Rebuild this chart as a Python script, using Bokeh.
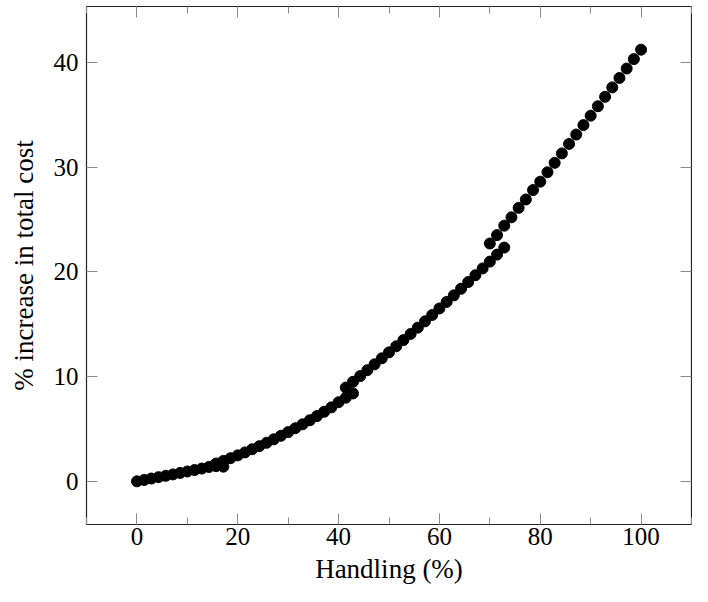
from bokeh.plotting import figure
from bokeh.models import SingleIntervalTicker, LinearAxis, Range1d, CustomLabelingPolicy
from bokeh.embed import file_html
from bokeh.resources import INLINE

# Segment A (low handling)
x_a = [0.0, 1.43, 2.86, 4.29, 5.71, 7.14, 8.57, 10.0, 11.43, 12.86, 14.29, 15.71, 17.14]
y_a = [0.0, 0.13, 0.27, 0.40, 0.53, 0.66, 0.80, 0.94, 1.08, 1.22, 1.37, 1.45, 1.40]
# Segment B
x_b = [15.71, 17.14, 18.57, 20.0, 21.43, 22.86, 24.29, 25.71, 27.14, 28.57,
       30.0, 31.43, 32.86, 34.29, 35.71, 37.14, 38.57, 40.0, 41.43, 42.86]
y_b = [1.70, 1.95, 2.21, 2.48, 2.76, 3.06, 3.36, 3.68, 4.01, 4.35,
       4.70, 5.07, 5.44, 5.83, 6.23, 6.64, 7.06, 7.55, 7.98, 8.39]
# Segment C
x_c = [41.43, 42.86, 44.29, 45.71, 47.14, 48.57, 50.0, 51.43, 52.86, 54.29,
       55.71, 57.14, 58.57, 60.0, 61.43, 62.86, 64.29, 65.71, 67.14, 68.57,
       70.0, 71.43, 72.86]
y_c = [8.95, 9.50, 10.05, 10.61, 11.17, 11.74, 12.31, 12.89, 13.48, 14.07,
       14.67, 15.27, 15.88, 16.50, 17.12, 17.75, 18.38, 19.02, 19.67, 20.32,
       20.97, 21.64, 22.31]
# Segment D (high handling)
x_d = [70.0, 71.43, 72.86, 74.29, 75.71, 77.14, 78.57, 80.0, 81.43, 82.86,
       84.29, 85.71, 87.14, 88.57, 90.0, 91.43, 92.86, 94.29, 95.71, 97.14,
       98.57, 100.0]
y_d = [22.7, 23.5, 24.4, 25.2, 26.1, 26.9, 27.8, 28.6, 29.5, 30.4,
       31.3, 32.2, 33.1, 34.0, 34.9, 35.8, 36.7, 37.6, 38.5, 39.4,
       40.3, 41.2]

FONT = "Liberation Serif"
TICK_FS = "25px"
LABEL_FS = "27px"

p = figure(width=692, height=586, x_range=Range1d(-10, 110), y_range=Range1d(-4.12, 45.32),
           output_backend="svg", toolbar_location=None,
           min_border_left=86, min_border_right=1, min_border_top=6, min_border_bottom=0,
           x_axis_label="Handling (%)", y_axis_label="% increase in total cost")
p.grid.visible = False
p.outline_line_color = "#222222"
p.outline_line_width = 1.2

hide_all = CustomLabelingPolicy(code="""
try { for (let i = 0; i < indices.size; i++) { indices.unset(i) } } catch (e) {}
return indices
""")


def style(ax, labels=True):
    ax.axis_line_color = None
    ax.major_tick_in = 11
    ax.major_tick_out = 0
    ax.minor_tick_in = 7
    ax.minor_tick_out = 0
    ax.major_tick_line_color = "#8a8a8a"
    ax.minor_tick_line_color = "#8a8a8a"
    ax.major_label_text_font = FONT
    ax.major_label_text_font_size = TICK_FS if labels else "0px"
    ax.major_label_text_color = "black"
    ax.axis_label_text_font = FONT
    ax.axis_label_text_font_size = LABEL_FS
    ax.axis_label_text_font_style = "normal"
    ax.axis_label_text_color = "black"
    if not labels:
        ax.major_label_policy = hide_all
        ax.major_label_standoff = 0


p.xaxis.ticker = SingleIntervalTicker(interval=20, num_minor_ticks=2)
p.yaxis.ticker = SingleIntervalTicker(interval=10, num_minor_ticks=0)
style(p.xaxis[0])
style(p.yaxis[0])
p.xaxis.major_label_standoff = 3
p.yaxis.major_label_standoff = 8
p.xaxis.axis_label_standoff = 6
p.yaxis.axis_label_standoff = 12

top = LinearAxis(ticker=SingleIntervalTicker(interval=20, num_minor_ticks=2))
right = LinearAxis(ticker=SingleIntervalTicker(interval=10, num_minor_ticks=0))
for ax in (top, right):
    style(ax, labels=False)
p.add_layout(top, "above")
p.add_layout(right, "right")

for xs, ys in ((x_a, y_a), (x_b, y_b), (x_c, y_c), (x_d, y_d)):
    p.scatter(xs, ys, size=11, color="black")

open("out.html", "w").write(file_html(p, INLINE))
